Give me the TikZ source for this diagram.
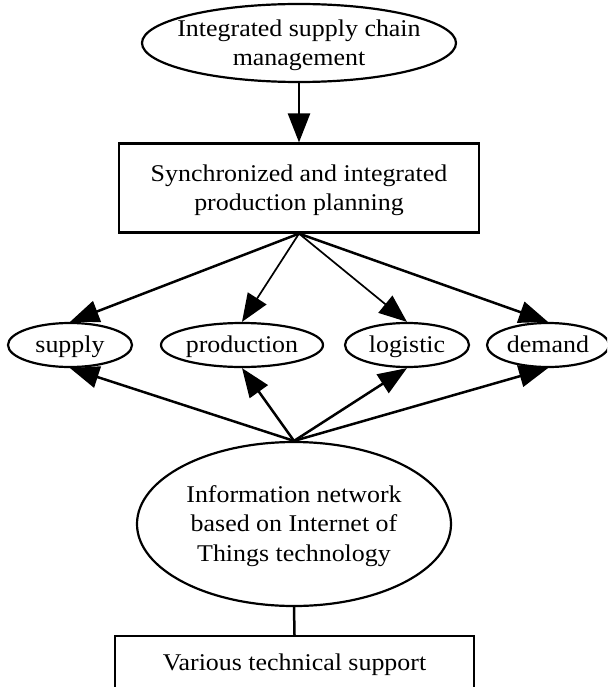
\documentclass[tikz,border=0pt]{standalone}
\usepackage{fontspec}
\setmainfont{Liberation Serif}[FakeStretch=1.08]
\usetikzlibrary{shapes.geometric,arrows.meta}
\newcommand\firststrut{\rule{0pt}{21pt}}
\begin{document}
\begin{tikzpicture}[x=1pt,y=-1pt,
  every node/.style={font=\fontsize{24}{29.5}\selectfont, inner sep=0pt, align=center},
  oval/.style={draw, ellipse, line width=2.2pt, inner xsep=-40pt, inner ysep=-10pt},
  box/.style={draw, rectangle, line width=2.2pt},
  oneline/.style={text height=19pt, text depth=5pt},
  thickedge/.style={line width=2.5pt, -{Triangle[length=29pt,width=22pt]}},
  thinedge/.style={line width=1.7pt, -{Triangle[length=28pt,width=22pt]}},
  plainedge/.style={line width=2.5pt}]
\useasboundingbox (0,0) rectangle (607,687);
\clip (0,0) rectangle (607,687);
\node[oval, minimum width=314pt, minimum height=78pt] (ism) at (299,43) {\firststrut Integrated supply chain\\management};
\node[box, minimum width=360pt, minimum height=89pt] (plan) at (299,188) {\firststrut Synchronized and integrated\\production planning};
\node[oval, oneline, minimum width=124pt, minimum height=44pt] (supply) at (70,345) {supply};
\node[oval, oneline, minimum width=162pt, minimum height=44pt] (production) at (242,345) {production};
\node[oval, oneline, minimum width=124pt, minimum height=44pt] (logistic) at (407,345) {logistic};
\node[oval, oneline, minimum width=122pt, minimum height=44pt] (demand) at (548,345) {demand};
\node[oval, minimum width=314pt, minimum height=164pt] (info) at (294,524) {\firststrut Information network\\based on Internet of\\Things technology};
\node[box, oneline, minimum width=359pt, minimum height=54pt] (tech) at (294.5,663) {Various technical support};
\draw[thickedge] (ism.south) -- (plan.north);
\draw[thickedge] (plan.south) -- (supply.north);
\draw[thinedge] (plan.south) -- (production.north);
\draw[thinedge] (plan.south) -- (logistic.north);
\draw[thickedge] (plan.south) -- (demand.north);
\draw[thickedge] (info.north) -- (supply.south);
\draw[thickedge] (info.north) -- (production.south);
\draw[thickedge] (info.north) -- (logistic.south);
\draw[thickedge] (info.north) -- (demand.south);
\draw[plainedge] (info.south) -- (tech.north);
\end{tikzpicture}
\end{document}
